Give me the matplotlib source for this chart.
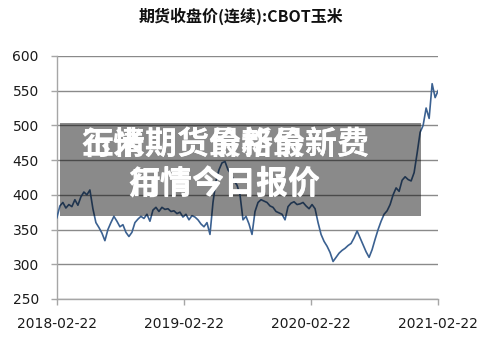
import matplotlib
matplotlib.use('Agg')
import matplotlib.pyplot as plt
import matplotlib.patches as mpatches
import pandas as pd

plt.rcParams['font.family'] = ['Noto Sans CJK SC', 'DejaVu Sans']

# Données (environ tous les 9 jours)
START = '2018-02-22'
END = '2021-02-22'
prix = [
    367, 384, 389, 381, 386, 383, 393, 385, 397, 404, 400, 407,
    380, 360, 353, 345, 334, 350, 360, 369, 362, 354, 357, 346,
    340, 346, 360, 365, 369, 366, 372, 362, 378, 382, 376, 382,
    379, 380, 376, 377, 373, 375, 368, 372, 364, 370, 368, 364,
    358, 354, 360, 343, 389, 420, 436, 446, 448, 436, 430, 420,
    414, 400, 364, 369, 358, 343, 376, 389, 393, 391, 389, 384,
    382, 376, 374, 372, 364, 383, 388, 390, 386, 387, 389, 384,
    380, 386, 380, 360, 343, 333, 326, 317, 304, 310, 316, 320,
    323, 327, 330, 338, 348, 338, 328, 318, 310, 321, 336, 350,
    362, 372, 377, 386, 400, 410, 405, 421, 426, 422, 420, 432,
    460, 490, 500, 525, 510, 560, 540, 550,
]
dates = pd.date_range(START, END, periods=len(prix))
xticks = pd.to_datetime(['2018-02-22', '2019-02-22', '2020-02-22', '2021-02-22'])
xtick_labels = ['2018-02-22', '2019-02-22', '2020-02-22', '2021-02-22']
yticks = [250, 300, 350, 400, 450, 500, 550, 600]

titre = '期货收盘价(连续):CBOT玉米'
texte_a = ['玉米期货价格最新费', '用情今日报价']
texte_b = ['行情期货最新价新费', '行情今日报价']

fig = plt.figure(figsize=(4.82, 3.39), dpi=100)
ax = fig.add_axes([0.118, 0.118, 0.791, 0.717])

ax.plot(dates, prix, color='#3b6191', linewidth=1.2, zorder=3)

ax.set_xlim(xticks[0], xticks[-1])
ax.set_ylim(250, 600)
ax.set_yticks(yticks)
ax.set_xticks(xticks)
ax.set_xticklabels(xtick_labels)

ax.grid(axis='y', color='#8a8a8a', linewidth=1.0)
ax.set_axisbelow(True)
for s in ['top', 'right']:
    ax.spines[s].set_visible(False)
for s in ['left', 'bottom']:
    ax.spines[s].set_color('#a6a6a6')
    ax.spines[s].set_linewidth(1.0)
ax.tick_params(axis='both', colors='#a6a6a6', length=4, width=1.0,
               labelcolor='#1a1a1a', labelsize=10, pad=9)
for lab in ax.get_xticklabels() + ax.get_yticklabels():
    lab.set_family(['Liberation Sans Narrow', 'DejaVu Sans'])

fig.text(0.5, 0.953, titre, ha='center', va='center', fontsize=11.5,
         fontweight='bold', color='#111111')

# Bandeau gris semi-transparent par-dessus la courbe
rect = mpatches.Rectangle((0.008, 0.0), 0.947, 1.0, transform=ax.transAxes,
                          facecolor='black', alpha=0.46, zorder=4)
# hauteur en données : de 370 à 504
rect = mpatches.Rectangle((0.008, (370 - 250) / 350), 0.947, (504 - 370) / 350,
                          transform=ax.transAxes, facecolor='black',
                          alpha=0.46, zorder=4, linewidth=0)
ax.add_patch(rect)

for lignes in (texte_a, texte_b):
    fig.text(0.467, 0.572, lignes[0], ha='center', va='center', fontsize=23,
             fontweight='bold', color='white', zorder=5)
    fig.text(0.465, 0.454, lignes[1], ha='center', va='center', fontsize=23,
             fontweight='bold', color='white', zorder=5)

fig.savefig('out.png', dpi=100)
